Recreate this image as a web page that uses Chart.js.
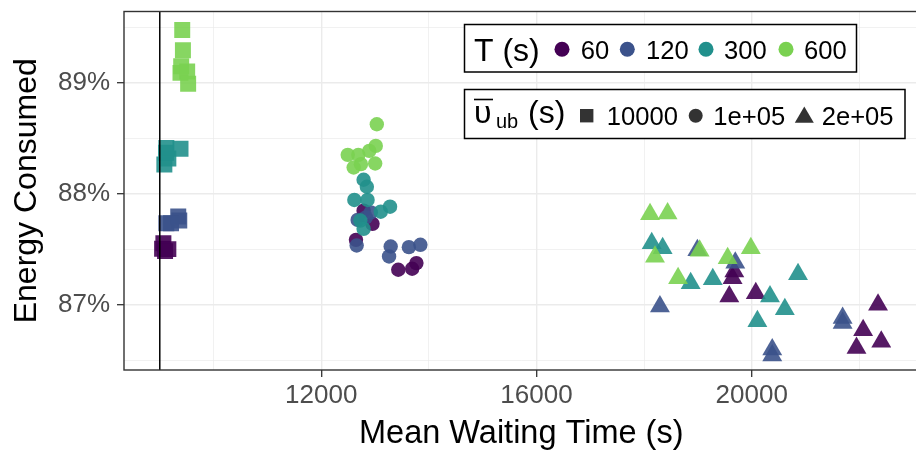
<!DOCTYPE html>
<html lang="en">
<head>
  <meta charset="UTF-8" />
  <title>Energy Consumed vs Mean Waiting Time</title>
  <script src="https://cdn.jsdelivr.net/npm/chart.js"></script>
  <style>
    html, body {
      margin: 0;
      padding: 0;
      background: #fff;
      overflow: hidden;
    }
    #wrap {
      width: 916px;
      height: 455px;
      overflow: hidden;
    }
    canvas {
      display: block;
    }
  </style>
</head>
<body>
  <div id="wrap"><canvas id="chart" width="930" height="455"></canvas></div>
  <script>
    const tLevels = ["60", "120", "300", "600"];
    const tColors = ["#440154", "#3B528B", "#21908C", "#7AD151"];
    const ubLevels = ["10000", "1e+05", "2e+05"];
    const ubShapes = ["rect", "circle", "triangle"];
    const ubRadius = [11.3, 7.2, 11.5];

    // grid positions; only the major ones get a label
    const xTicks = [10000, 12000, 14000, 16000, 18000, 20000, 22000];
    const xMajor = [12000, 16000, 20000];
    const yTicks = [86.5, 87, 87.5, 88, 88.5, 89, 89.5];
    const yMajor = [87, 88, 89];

    // mean waiting time (s) / energy consumed (%), upper bound 10000
    const wait10k_60 = [9067, 9043, 9159, 9098];
    const energy10k_60 = [87.556, 87.505, 87.502, 87.484];
    const wait10k_120 = [9343, 9122, 9362, 9209];
    const energy10k_120 = [87.796, 87.735, 87.760, 87.735];
    const wait10k_300 = [9122, 9385, 9159, 9085, 9117];
    const energy10k_300 = [88.416, 88.409, 88.320, 88.266, 88.373];
    const wait10k_600 = [9417, 9430, 9398, 9385, 9509, 9527];
    const energy10k_600 = [89.479, 89.297, 89.153, 89.093, 89.105, 88.994];

    // upper bound 1e+05
    const wait1e5_60 = [12788, 12953, 12646, 13432, 13690, 13769];
    const energy1e5_60 = [87.849, 87.730, 87.586, 87.316, 87.325, 87.376];
    const wait1e5_120 = [12830, 12677, 12922, 12659, 13291, 13261, 13629, 13843];
    const energy1e5_120 = [87.789, 87.766, 87.834, 87.535, 87.526, 87.436, 87.520, 87.541];
    const wait1e5_300 = [12788, 12848, 12616, 12861, 13279, 13106, 12727, 12788];
    const energy1e5_300 = [88.128, 88.065, 87.946, 87.946, 87.885, 87.840, 87.760, 87.685];
    const wait1e5_600 = [13033, 13014, 12893, 12493, 12690, 13003, 12738, 12603];
    const energy1e5_600 = [88.629, 88.434, 88.389, 88.353, 88.353, 88.275, 88.269, 88.239];

    // upper bound 2e+05
    const wait2e5_60 = [19677, 19645, 19584, 20076, 22348, 22071, 22408, 21948];
    const energy2e5_60 = [87.299, 87.239, 87.075, 87.104, 87.000, 86.769, 86.667, 86.610];
    const wait2e5_120 = [18990, 19695, 18295, 20382, 20382, 21690, 21690];
    const energy2e5_120 = [87.493, 87.380, 86.985, 86.595, 86.541, 86.880, 86.835];
    const wait2e5_300 = [18142, 18345, 18866, 19277, 20340, 20616, 20106, 20861];
    const energy2e5_300 = [87.554, 87.509, 87.194, 87.230, 87.075, 86.960, 86.850, 87.275];
    const wait2e5_600 = [18111, 18437, 18203, 19032, 18632, 19553, 19984];
    const energy2e5_600 = [87.817, 87.823, 87.434, 87.488, 87.239, 87.419, 87.509];

    const waitSeries = [
      [wait10k_60, wait10k_120, wait10k_300, wait10k_600],
      [wait1e5_60, wait1e5_120, wait1e5_300, wait1e5_600],
      [wait2e5_60, wait2e5_120, wait2e5_300, wait2e5_600]
    ];
    const energySeries = [
      [energy10k_60, energy10k_120, energy10k_300, energy10k_600],
      [energy1e5_60, energy1e5_120, energy1e5_300, energy1e5_600],
      [energy2e5_60, energy2e5_120, energy2e5_300, energy2e5_600]
    ];

    const refWait = 9000; // vertical reference line
    const xMin = 8335, xMax = 23100;
    const yMin = 86.411, yMax = 89.647;

    const FONT = '"Liberation Sans", Arial, sans-serif';
    Chart.defaults.font.family = FONT;

    const datasets = [];
    // draw larger T on top: Chart.js paints index 0 last
    for (let t = tLevels.length - 1; t >= 0; t--) {
      for (let u = 0; u < ubLevels.length; u++) {
        datasets.push({
          label: "T " + tLevels[t] + " / ub " + ubLevels[u],
          data: waitSeries[u][t].map((w, i) => ({ x: w, y: energySeries[u][t][i] })),
          backgroundColor: tColors[t] + "E6",
          borderWidth: 0,
          pointStyle: ubShapes[u],
          pointRadius: ubRadius[u],
          pointHoverRadius: ubRadius[u],
          order: 1
        });
      }
    }
    datasets.push({
      type: "line",
      label: "reference",
      data: [{ x: refWait, y: yMin - 1 }, { x: refWait, y: yMax + 1 }],
      borderColor: "#000",
      borderWidth: 1.5,
      pointRadius: 0,
      order: -1
    });

    const panelBorder = {
      id: "panelBorder",
      afterDatasetsDraw(chart) {
        const { ctx, chartArea } = chart;
        ctx.save();
        ctx.strokeStyle = "#333333";
        ctx.lineWidth = 1.4;
        ctx.strokeRect(chartArea.left, chartArea.top, chartArea.right - chartArea.left, chartArea.bottom - chartArea.top);
        ctx.restore();
      }
    };

    const ggLegend = {
      id: "ggLegend",
      afterDraw(chart) {
        const ctx = chart.ctx;
        ctx.save();
        ctx.lineWidth = 1.5;
        ctx.strokeStyle = "#000";

        // T legend
        ctx.fillStyle = "#fff";
        ctx.fillRect(464.5, 24.5, 392, 47.5);
        ctx.strokeRect(464.5, 24.5, 392, 47.5);
        ctx.fillStyle = "#000";
        ctx.textBaseline = "alphabetic";
        ctx.textAlign = "left";
        ctx.font = "32px " + FONT;
        ctx.fillText("T (s)", 474, 60.5);
        const dotX = [562, 627.3, 706, 786];
        const labX = [580.7, 646, 724, 804];
        ctx.font = "25.6px " + FONT;
        tLevels.forEach((t, i) => {
          ctx.fillStyle = tColors[i];
          ctx.beginPath();
          ctx.arc(dotX[i], 49.3, 7.5, 0, Math.PI * 2);
          ctx.fill();
          ctx.fillStyle = "#000";
          ctx.fillText(t, labX[i], 58.9);
        });

        // upper bound legend
        ctx.fillStyle = "#fff";
        ctx.fillRect(464.5, 89.5, 440.5, 49);
        ctx.strokeRect(464.5, 89.5, 440.5, 49);
        ctx.fillStyle = "#000";
        ctx.font = "32px " + FONT;
        ctx.fillText("\u03C5", 474, 122.7);
        ctx.beginPath();
        ctx.moveTo(474, 99.5);
        ctx.lineTo(493, 99.5);
        ctx.lineWidth = 1.6;
        ctx.stroke();
        ctx.font = "20px " + FONT;
        ctx.fillText("ub", 496, 128.3);
        ctx.font = "32px " + FONT;
        ctx.fillText("(s)", 528, 122.7);

        ctx.fillStyle = "#333333";
        const cy = 115.7;
        ctx.fillRect(586.7 - 6.7, cy - 6.7, 13.4, 13.4);
        ctx.beginPath();
        ctx.arc(695.7, cy, 7, 0, Math.PI * 2);
        ctx.fill();
        ctx.beginPath();
        ctx.moveTo(804.3, 106.5);
        ctx.lineTo(813.8, 122.7);
        ctx.lineTo(794.8, 122.7);
        ctx.closePath();
        ctx.fill();

        ctx.fillStyle = "#000";
        ctx.font = "25.6px " + FONT;
        const ubLabX = [606.7, 713.3, 821.7];
        ubLevels.forEach((u, i) => ctx.fillText(u, ubLabX[i], 124.9));
        ctx.restore();
      }
    };

    const isMajorX = v => xMajor.includes(v);
    const isMajorY = v => yMajor.includes(v);

    new Chart(document.getElementById("chart"), {
      type: "scatter",
      data: { datasets: datasets },
      options: {
        responsive: false,
        animation: false,
        events: [],
        layout: { padding: { top: 10, right: 4, left: 0, bottom: 0 } },
        plugins: {
          legend: { display: false },
          tooltip: { enabled: false }
        },
        scales: {
          x: {
            type: "linear",
            min: xMin,
            max: xMax,
            afterBuildTicks: s => { s.ticks = xTicks.map(v => ({ value: v })); },
            afterFit: s => {
              s.height = 85;
              s.paddingLeft = 0;
              s.paddingRight = 0;
            },
            border: { display: false },
            grid: {
              color: "#EBEBEB",
              lineWidth: c => isMajorX(c.tick.value) ? 1.4 : 0.7,
              tickColor: c => isMajorX(c.tick.value) ? "#333333" : "rgba(0,0,0,0)",
              tickLength: 7,
              tickWidth: 1.3
            },
            ticks: {
              autoSkip: false,
              maxRotation: 0,
              padding: 3,
              color: "#4D4D4D",
              font: { size: 26 },
              callback: v => isMajorX(v) ? String(v) : ""
            },
            title: {
              display: true,
              text: "Mean Waiting Time (s)",
              color: "#000",
              font: { size: 32.5 },
              padding: { top: 0, bottom: 1 }
            }
          },
          y: {
            type: "linear",
            min: yMin,
            max: yMax,
            afterBuildTicks: s => { s.ticks = yTicks.map(v => ({ value: v })); },
            afterFit: s => {
              s.width = 124;
              s.paddingTop = 0;
              s.paddingBottom = 0;
            },
            border: { display: false },
            grid: {
              color: "#EBEBEB",
              lineWidth: c => isMajorY(c.tick.value) ? 1.4 : 0.7,
              tickColor: c => isMajorY(c.tick.value) ? "#333333" : "rgba(0,0,0,0)",
              tickLength: 7,
              tickWidth: 1.3
            },
            ticks: {
              autoSkip: false,
              padding: 7,
              color: "#4D4D4D",
              font: { size: 26 },
              callback: v => isMajorY(v) ? v + "%" : ""
            },
            title: {
              display: true,
              text: "Energy Consumed",
              color: "#000",
              font: { size: 32 },
              padding: { top: 8, bottom: 0 }
            }
          }
        }
      },
      plugins: [panelBorder, ggLegend]
    });
  </script>
</body>
</html>
